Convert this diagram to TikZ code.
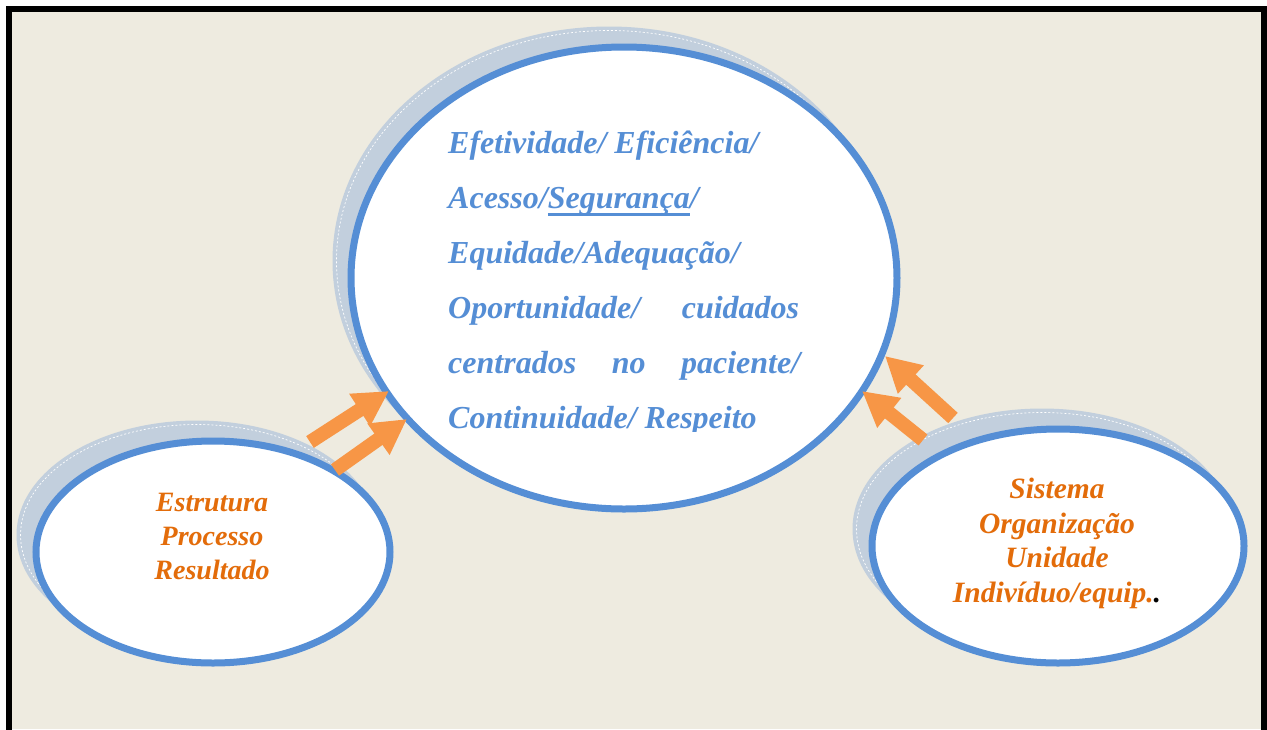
\documentclass[tikz,border=0pt]{standalone}
\usepackage{fontspec}
\setmainfont{Liberation Serif}
\usetikzlibrary{shapes.geometric,arrows.meta}
\definecolor{bgbeige}{HTML}{EEEBE0}
\definecolor{shadowc}{HTML}{C2CFDD}
\definecolor{ellblue}{HTML}{558ED5}
\definecolor{txtblue}{HTML}{558ED5}
\definecolor{arrorange}{HTML}{F79646}
\definecolor{txtorange}{HTML}{E36C0A}
\newcommand\myul[1]{\setbox0\hbox{#1}\rlap{\color{txtblue}\rule[-8pt]{\wd0}{3.5pt}}\box0}
\begin{document}
\begin{tikzpicture}[x=1pt,y=-1pt,
  shadowell/.style={ellipse, fill=shadowc, inner sep=0pt},
  shadowdash/.style={ellipse, draw=white, dash pattern=on 2pt off 2pt, line width=0.7pt, inner sep=0pt},
  mainell/.style={ellipse, draw=ellblue, line width=7pt, fill=white, inner sep=0pt},
  bluetxt/.style={text=txtblue, font=\fontsize{32}{38}\selectfont\bfseries\itshape, inner sep=0pt, anchor=base west},
  orgtxt/.style={text=txtorange, font=\fontsize{28}{32}\selectfont\bfseries\itshape, inner sep=0pt, anchor=base},
  orgtxtr/.style={orgtxt, font=\fontsize{29.5}{34}\selectfont\bfseries\itshape},
  fatarrow/.style={draw=arrorange, line width=14pt, -{Triangle[length=35pt,width=36pt]}}
]
\useasboundingbox (0,0) rectangle (1267,729);
\fill[white] (0,0) rectangle (1267,729);
\fill[bgbeige] (9,9) rectangle (1264,729);
\draw[line width=6pt] (9,735) -- (9,9) -- (1264,9) -- (1264,735);

% shadows
\node[shadowell, minimum width=553pt, minimum height=469pt] (bigsh) at (609,261) {};
\node[shadowdash, minimum width=545pt, minimum height=461pt] (bigshd) at (609,261) {};
\node[shadowell, minimum width=361pt, minimum height=229pt] (leftsh) at (197,535) {};
\node[shadowdash, minimum width=353pt, minimum height=221pt] (leftshd) at (197,535) {};
\node[shadowell, minimum width=379pt, minimum height=241pt] (rightsh) at (1042,529) {};
\node[shadowdash, minimum width=371pt, minimum height=233pt] (rightshd) at (1042,529) {};

% main ellipses
\node[mainell, minimum width=546pt, minimum height=462pt] (big) at (624,278) {};
\node[mainell, minimum width=354pt, minimum height=222pt] (left) at (213,552) {};
\node[mainell, minimum width=372pt, minimum height=234pt] (right) at (1058,546) {};

% arrows
\coordinate (la1) at (310,442); \coordinate (lt1) at (389,391);
\coordinate (la2) at (335,470); \coordinate (lt2) at (407,419);
\coordinate (ra1) at (953,418); \coordinate (rt1) at (885,356);
\coordinate (ra2) at (923,440); \coordinate (rt2) at (862,391);
\draw[fatarrow] (la1) -- (lt1);
\draw[fatarrow] (la2) -- (lt2);
\draw[fatarrow] (ra1) -- (rt1);
\draw[fatarrow] (ra2) -- (rt2);

% big ellipse text
\begin{scope}
\clip (0,0) rectangle (1267,431);
\node[bluetxt] (l1) at (448,153) {Efetividade/ Eficiência/};
\node[bluetxt] (l2) at (448,208) {Acesso/\myul{Segurança}/};
\node[bluetxt] (l3) at (448,263) {Equidade/Adequação/};
\node[bluetxt] (l4) at (448,318) {\hbox to 351pt{Oportunidade/\hfill cuidados}};
\node[bluetxt] (l5) at (448,373) {\hbox to 352pt{centrados\hfill no\hfill paciente/}};
\node[bluetxt] (l6) at (448,428) {Continuidade/ Respeito};
\end{scope}

% left text
\node[orgtxt] (e1) at (212,511) {Estrutura};
\node[orgtxt] (e2) at (212,545) {Processo};
\node[orgtxt] (e3) at (212,579) {Resultado};

% right text
\node[orgtxtr] (s1) at (1057,498) {Sistema};
\node[orgtxtr] (s2) at (1057,533) {Organização};
\node[orgtxtr] (s3) at (1057,567) {Unidade};
\node[orgtxtr] (s4) at (1057,602) {Indivíduo/equip.{\color{black}.}};
\end{tikzpicture}
\end{document}
